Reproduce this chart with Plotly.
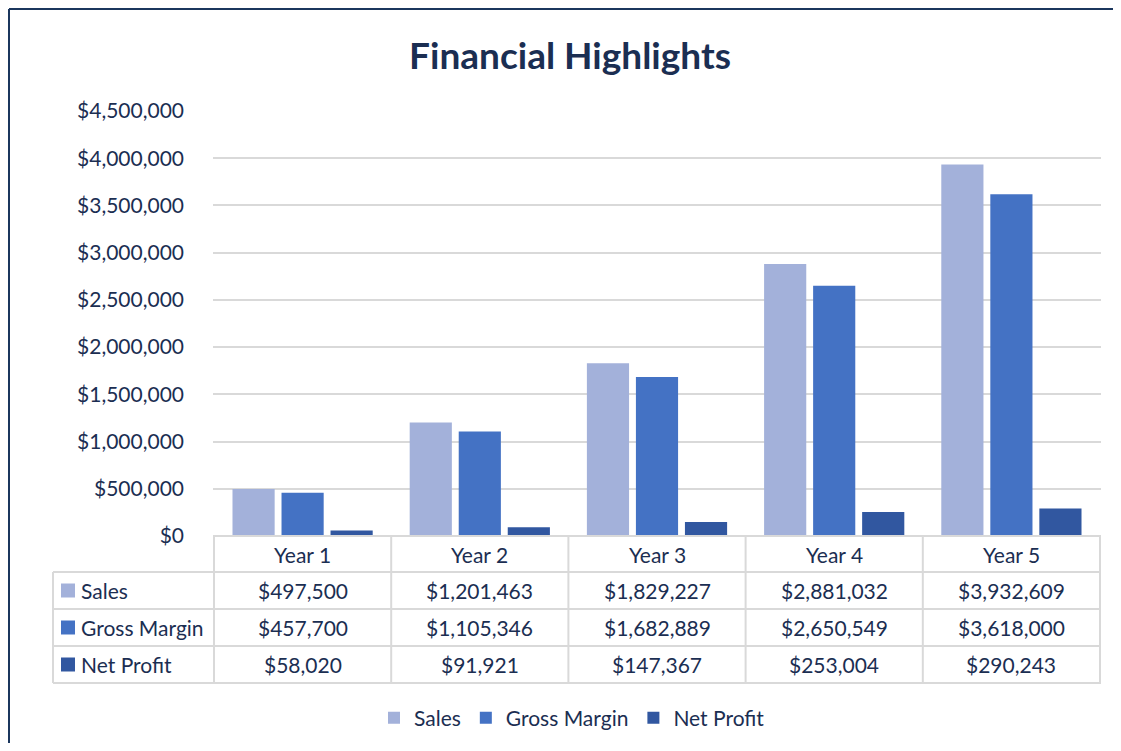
import plotly.graph_objects as go

years = ["Year 1", "Year 2", "Year 3", "Year 4", "Year 5"]
sales = [497500, 1201463, 1829227, 2881032, 3932609]
gross_margin = [457700, 1105346, 1682889, 2650549, 3618000]
net_profit = [58020, 91921, 147367, 253004, 290243]

series_names = ["Sales", "Gross Margin", "Net Profit"]
series_values = [sales, gross_margin, net_profit]
series_colors = ["#A3B1DA", "#4472C4", "#3157A0"]

TXT = "#1B2E52"
FONT = "Lato, 'Open Sans', sans-serif"
GRID = "#D9D9D9"

OFF = 8  # page body margin
W, H = 1121 - 2 * OFF, 751 - 2 * OFF
ML, MR, MT, MB = 213 - OFF, W - (1101 - OFF), 111 - OFF, H - (536 - OFF)
PW = W - ML - MR
PH = H - MT - MB


def py(p):  # reference pixel y -> paper y
    return (H - MB - (p - OFF)) / PH


def pxx(p):  # reference pixel x -> paper x
    return ((p - OFF) - ML) / PW


fig = go.Figure()
for name, vals, col in zip(series_names, series_values, series_colors):
    fig.add_trace(go.Bar(x=years, y=vals, name=name, marker=dict(color=col, line=dict(width=0))))

shapes = []
annotations = []
FS = 21

row_top = [536, 572, 609, 646, 683]
n = len(years)
for i in range(n + 1):
    shapes.append(dict(type="line", xref="x", yref="paper", x0=i - 0.5, x1=i - 0.5,
                       y0=py(row_top[0]), y1=py(row_top[-1]), line=dict(color=GRID, width=2)))
shapes.append(dict(type="line", xref="paper", yref="paper", x0=0, x1=1,
                   y0=py(row_top[0]), y1=py(row_top[0]), line=dict(color=GRID, width=2)))
for r in row_top[1:]:
    shapes.append(dict(type="line", xref="paper", yref="paper", x0=pxx(53), x1=1,
                       y0=py(r), y1=py(r), line=dict(color=GRID, width=2)))
shapes.append(dict(type="line", xref="paper", yref="paper", x0=pxx(53), x1=pxx(53),
                   y0=py(row_top[1]), y1=py(row_top[-1]), line=dict(color=GRID, width=2)))

for i, yr in enumerate(years):
    annotations.append(dict(x=i, y=py((row_top[0] + row_top[1]) / 2), xref="x", yref="paper",
                            text=yr, showarrow=False, font=dict(size=FS, color=TXT, family=FONT),
                            xanchor="center", yanchor="middle"))
for r, (name, vals, col) in enumerate(zip(series_names, series_values, series_colors)):
    ymid = (row_top[r + 1] + row_top[r + 2]) / 2
    shapes.append(dict(type="rect", xref="paper", yref="paper", x0=pxx(61), x1=pxx(75),
                       y0=py(ymid + 7), y1=py(ymid - 7), fillcolor=col, line=dict(width=0)))
    annotations.append(dict(x=pxx(79), y=py(ymid), xref="paper", yref="paper", text=name,
                            showarrow=False, font=dict(size=FS, color=TXT, family=FONT),
                            xanchor="left", yanchor="middle"))
    for i, v in enumerate(vals):
        annotations.append(dict(x=i, y=py(ymid), xref="x", yref="paper", text=f"${v:,}",
                                showarrow=False, font=dict(size=FS, color=TXT, family=FONT),
                                xanchor="center", yanchor="middle"))

# outer frame: top and left edges only, kept inside the figure
FRAME = "#1B365D"
shapes.append(dict(type="line", xref="paper", yref="paper", x0=pxx(9), x1=pxx(OFF + W),
                   y0=py(9), y1=py(9), line=dict(color=FRAME, width=2)))
shapes.append(dict(type="line", xref="paper", yref="paper", x0=pxx(9), x1=pxx(9),
                   y0=py(9), y1=py(OFF + H), line=dict(color=FRAME, width=2)))

fig.update_layout(
    width=W, height=H,
    margin=dict(l=ML, r=MR, t=MT, b=MB),
    paper_bgcolor="white", plot_bgcolor="white",
    title=dict(text="<b>Financial Highlights</b>", x=(570 - OFF) / W, xref="container", xanchor="center",
               y=1 - (56 - OFF) / H, yref="container", yanchor="middle",
               font=dict(size=37, color=TXT, family=FONT)),
    barmode="group", bargap=0.17, bargroupgap=0.14,
    font=dict(family=FONT, color=TXT),
    xaxis=dict(showticklabels=False, showgrid=False, zeroline=False, showline=False, ticks=""),
    yaxis=dict(range=[0, 4500000], dtick=500000, tickformat="$,.0f", showgrid=True, gridcolor=GRID,
               gridwidth=2, zeroline=False, showline=False, ticks="", ticklabelstandoff=28,
               tickfont=dict(size=FS, color=TXT, family=FONT)),
    legend=dict(orientation="h", x=(572 - OFF) / W, xref="container", xanchor="center",
                y=1 - (718 - OFF) / H, yref="container", yanchor="middle",
                font=dict(size=FS, color=TXT, family=FONT), itemwidth=30, traceorder="normal"),
    shapes=shapes,
    annotations=annotations,
)

fig.write_html("out.html")
